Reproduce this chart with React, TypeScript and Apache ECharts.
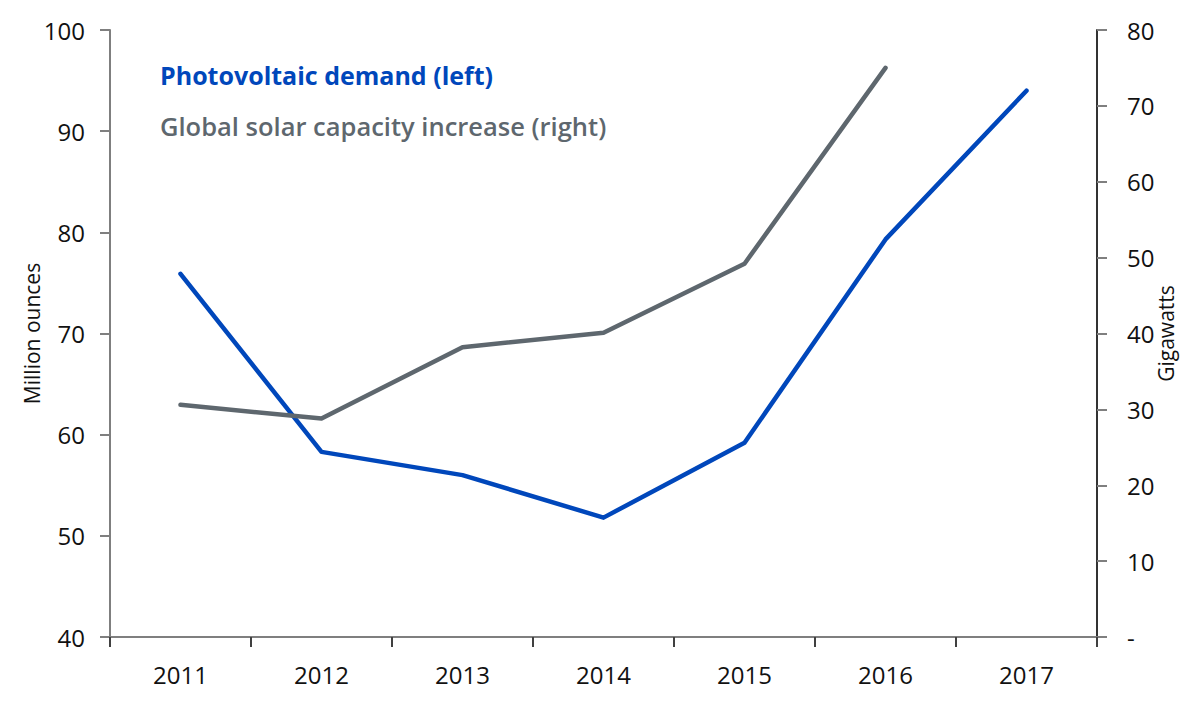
import React, { useEffect, useRef } from "react";
import * as echarts from "echarts";

const years = ["2011", "2012", "2013", "2014", "2015", "2016", "2017"];
const pvDemand = [75.9, 58.3, 56.0, 51.8, 59.2, 79.3, 94.0];
const solarCapacity: (number | null)[] = [30.6, 28.8, 38.2, 40.1, 49.2, 75.0, null];
const leftTicks = { min: 40, max: 100, interval: 10 };
const rightTicks = { min: 0, max: 80, interval: 10 };
const legendNames = ["Photovoltaic demand (left)", "Global solar capacity increase (right)"];
const axisNames = ["Million ounces", "Gigawatts"];

const FONT = "'Open Sans', Lato, sans-serif";
const BLUE = "#0047BB";
const GRAY = "#5E676E";

export default function App() {
  const ref = useRef<HTMLDivElement>(null);
  useEffect(() => {
    document.body.style.margin = "0";
    const chart = echarts.init(ref.current!, null, { renderer: "svg" });
    chart.setOption({
      animation: false,
      backgroundColor: "#ffffff",
      grid: { left: 110, right: 103, top: 30, bottom: 69, containLabel: false },
      xAxis: {
        type: "category",
        data: years,
        boundaryGap: true,
        axisLine: { lineStyle: { color: "#7f7f7f", width: 2 } },
        axisTick: { show: true, length: 10, lineStyle: { color: "#404040", width: 2 } },
        axisLabel: { color: "#111", fontSize: 24, fontFamily: FONT, margin: 25 },
      },
      yAxis: [
        {
          type: "value",
          min: leftTicks.min,
          max: leftTicks.max,
          interval: leftTicks.interval,
          position: "left",
          name: axisNames[0],
          nameLocation: "middle",
          nameRotate: 90,
          nameGap: 68,
          nameMoveOverlap: false,
          nameTextStyle: { color: "#111", fontSize: 21, fontFamily: FONT },
          axisLine: { show: true, lineStyle: { color: "#7f7f7f", width: 2 } },
          axisTick: { show: true, inside: false, length: 10, lineStyle: { color: "#7f7f7f", width: 2 } },
          axisLabel: { color: "#111", fontSize: 24, fontFamily: FONT, margin: 25 },
          splitLine: { show: false },
        },
        {
          type: "value",
          min: rightTicks.min,
          max: rightTicks.max,
          interval: rightTicks.interval,
          position: "right",
          name: axisNames[1],
          nameLocation: "middle",
          nameRotate: 90,
          nameGap: 58,
          nameMoveOverlap: false,
          nameTextStyle: { color: "#111", fontSize: 21, fontFamily: FONT },
          axisLine: { show: true, lineStyle: { color: "#333", width: 2 } },
          axisTick: { show: true, inside: false, length: 10, lineStyle: { color: "#7f7f7f", width: 2 } },
          axisLabel: {
            color: "#111",
            fontSize: 24,
            fontFamily: FONT,
            margin: 30,
            formatter: (v: number) => (v === 0 ? "-" : String(v)),
          },
          splitLine: { show: false },
        },
      ],
      graphic: [
        {
          type: "text",
          left: 160,
          top: 62,
          style: { text: legendNames[0], fill: BLUE, font: `bold 25px ${FONT}` },
        },
        {
          type: "text",
          left: 160,
          top: 113,
          style: { text: legendNames[1], fill: GRAY, font: `600 25.5px ${FONT}` },
        },
      ],
      series: [
        {
          name: legendNames[0],
          type: "line",
          yAxisIndex: 0,
          data: pvDemand,
          symbol: "none",
          lineStyle: { color: BLUE, width: 4.5, cap: "round", join: "round" },
        },
        {
          name: legendNames[1],
          type: "line",
          yAxisIndex: 1,
          data: solarCapacity,
          symbol: "none",
          lineStyle: { color: GRAY, width: 4.5, cap: "round", join: "round" },
        },
      ],
    });
    return () => chart.dispose();
  }, []);
  return <div ref={ref} style={{ width: 1200, height: 706 }} />;
}
